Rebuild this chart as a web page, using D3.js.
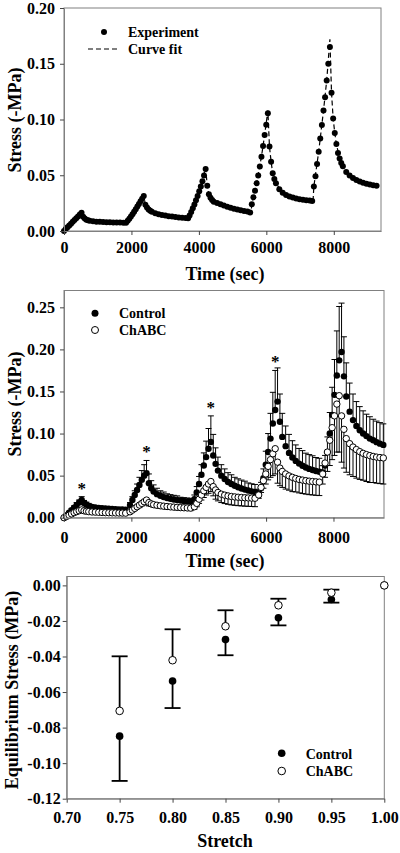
<!DOCTYPE html>
<html><head><meta charset="utf-8">
<script src="https://cdn.jsdelivr.net/npm/d3@7"></script>
<style>
body{margin:0;background:#fff;}
svg{display:block;}
text{font-family:"Liberation Serif","Times New Roman",serif;font-weight:bold;fill:#000;}
</style></head><body>
<svg id="c" width="400" height="853"></svg>
<script>
// ---------- Panel 1: single-sample relaxation ----------
const expTime = [
 0,52,104,156,208,260,312,364,416,468,520, 568,616,664,712,760, 860,960,1060,1160,1260,1360,1460,1560,1660,1760,1840,
 1889,1937,1984,2032,2079,2127,2175,2222,2270,2317,2365, 2413,2461,2509,2557,2605, 2705,2805,2905,3005,3105,3205,3305,3405,3505,3605,3680,
 3724,3772,3819,3867,3914,3962,4010,4057,4105,4152,4200, 4248,4296,4344,4392,4440, 4540,4640,4740,4840,4940,5040,5140,5240,5340,5440,5520,
 5569,5617,5664,5712,5759,5807,5855,5902,5950,5997,6045, 6093,6141,6189,6237,6285, 6385,6485,6585,6685,6785,6885,6985,7085,7185,7285,7360,
 7409,7457,7504,7552,7599,7647,7695,7742,7790,7837,7885, 7933,7981,8029,8077,8125,8173,8221,8269, 8369,8469,8569,8669,8769,8869,8969,9069,9169,9269
];
const expStress = [
 0.0000,0.0017,0.0033,0.0050,0.0066,0.0083,0.0099,0.0115,0.0131,0.0148,0.0164, 0.0128,0.0112,0.0102,0.0096,0.0092, 0.0087,0.0084,0.0082,0.0080,0.0079,0.0078,0.0077,0.0076,0.0076,0.0075,0.0075,
 0.0092,0.0110,0.0130,0.0151,0.0173,0.0196,0.0219,0.0242,0.0266,0.0290,0.0314, 0.0235,0.0210,0.0193,0.0181,0.0172, 0.0160,0.0151,0.0144,0.0138,0.0133,0.0129,0.0125,0.0122,0.0119,0.0117,0.0115,
 0.0140,0.0170,0.0203,0.0238,0.0275,0.0315,0.0357,0.0400,0.0447,0.0498,0.0555, 0.0405,0.0330,0.0298,0.0278,0.0263, 0.0252,0.0240,0.0228,0.0218,0.0209,0.0200,0.0192,0.0186,0.0180,0.0175,0.0165,
 0.0240,0.0303,0.0362,0.0428,0.0497,0.0578,0.0667,0.0763,0.0862,0.0952,0.1057, 0.0757,0.0622,0.0518,0.0467,0.0428, 0.0375,0.0342,0.0322,0.0310,0.0300,0.0292,0.0285,0.0280,0.0276,0.0273,0.0270,
 0.0400,0.0490,0.0600,0.0710,0.0830,0.0950,0.1080,0.1200,0.1350,0.1500,0.1650, 0.1240,0.1010,0.0880,0.0780,0.0700,0.0650,0.0610,0.0580, 0.0530,0.0498,0.0475,0.0457,0.0443,0.0432,0.0424,0.0417,0.0411,0.0405
];
const fitTime = [
 0,520,568,664,760,1260,1840,
 1865,2365,2413,2509,2705,3205,3680,
 3700,3962,4200,4248,4296,4440,4840,5520,
 5545,5569,5712,5855,5950,6045,6093,6141,6189,6285,6485,6885,7360,
 7385,7409,7552,7695,7790,7885,7933,7981,8029,8077,8173,8369,8769,9269
];
const fitStress = [
 0,0.0166,0.0128,0.0102,0.0092,0.0079,0.0075,
 0.0075,0.0318,0.0235,0.0193,0.016,0.0129,0.0115,
 0.0115,0.0315,0.0565,0.0405,0.033,0.0263,0.0218,0.0165,
 0.0159,0.024,0.0428,0.0667,0.0862,0.108,0.0757,0.0622,0.0518,0.0428,0.0342,0.0292,0.027,
 0.027,0.040,0.071,0.108,0.135,0.172,0.124,0.101,0.088,0.078,0.065,0.053,0.0443,0.0405
];
const timeTicks = [0,2000,4000,6000,8000];
const stress1Ticks = [0,0.05,0.10,0.15,0.20];

// ---------- Panel 2: Control vs ChABC (mean + SD) ----------
const relaxTime = [
 0,75,150,225,300,375,450,525, 595,665,735, 830,930,1030,1130,1230,1330,1430,1530,1630,1730,1830,
 1960,2030,2100,2170,2240,2310,2380,2450, 2520,2590,2660, 2760,2860,2960,3060,3160,3260,3360,3460,3560,3660,3760,
 3870,3940,4010,4080,4150,4220,4290,4360, 4430,4500,4570, 4670,4770,4870,4970,5070,5170,5270,5370,5470,5570,5670,
 5780,5850,5920,5990,6060,6130,6200,6270, 6340,6410,6480, 6580,6680,6780,6880,6980,7080,7180,7280,7380,7480,7580,
 7680,7750,7820,7890,7960,8030,8100,8170, 8240,8310,8380, 8480,8580,8680,8780,8880,8980,9080,9180,9280,9380,9480
];
const controlStress = [
 0.000,0.003,0.006,0.009,0.012,0.015,0.018,0.021, 0.0175,0.0155,0.014, 0.0128,0.0122,0.0117,0.0113,0.011,0.0107,0.0104,0.0101,0.0099,0.0097,0.0095,
 0.015,0.021,0.027,0.033,0.039,0.045,0.050,0.053, 0.041,0.035,0.031, 0.028,0.026,0.0245,0.0234,0.0224,0.0216,0.0209,0.0203,0.0198,0.0194,0.019,
 0.022,0.030,0.040,0.051,0.062,0.072,0.082,0.090, 0.074,0.064,0.056, 0.050,0.046,0.0425,0.040,0.038,0.0362,0.0347,0.0334,0.0323,0.0313,0.0305,0.0298,
 0.035,0.047,0.063,0.078,0.094,0.112,0.128,0.138, 0.114,0.096,0.085, 0.077,0.0715,0.0675,0.0643,0.0617,0.0597,0.058,0.0566,0.0555,0.0546,0.0538,
 0.062,0.078,0.100,0.122,0.146,0.169,0.187,0.197, 0.168,0.144,0.126, 0.116,0.109,0.104,0.100,0.097,0.094,0.092,0.0898,0.088,0.0865,0.085
];
const controlErr = [
 0,0.001,0.001,0.002,0.002,0.003,0.003,0.004, 0.003,0.003,0.003, 0.002,0.002,0.002,0.002,0.002,0.002,0.002,0.002,0.002,0.002,0.002,
 0.003,0.004,0.005,0.007,0.009,0.011,0.013,0.015, 0.011,0.009,0.008, 0.007,0.006,0.006,0.005,0.005,0.005,0.005,0.004,0.004,0.004,0.004,
 0.005,0.007,0.009,0.012,0.015,0.019,0.024,0.031, 0.025,0.019,0.016, 0.013,0.012,0.011,0.011,0.010,0.010,0.010,0.010,0.009,0.009,0.009,
 0.004,0.007,0.011,0.016,0.022,0.030,0.037,0.047, 0.040,0.033,0.028, 0.024,0.022,0.020,0.019,0.018,0.018,0.017,0.017,0.017,0.016,0.016,
 0.008,0.012,0.018,0.025,0.033,0.042,0.053,0.064, 0.058,0.047,0.040, 0.034,0.031,0.029,0.028,0.027,0.026,0.026,0.025,0.025,0.025,0.025
];
const chabcStress = [
 0.000,0.0015,0.003,0.0045,0.006,0.0072,0.0083,0.0093, 0.0082,0.0076,0.0072, 0.0068,0.0066,0.0064,0.0062,0.006,0.0059,0.0058,0.0057,0.0056,0.0055,0.0054,
 0.007,0.009,0.011,0.013,0.015,0.017,0.019,0.021, 0.018,0.0165,0.0155, 0.0148,0.0142,0.0137,0.0133,0.0129,0.0126,0.0123,0.012,0.0118,0.0116,0.0114,
 0.013,0.017,0.022,0.027,0.032,0.036,0.040,0.043, 0.037,0.033,0.030, 0.028,0.0268,0.0259,0.0252,0.0247,0.0243,0.024,0.0237,0.0235,0.0233,0.0231,
 0.027,0.036,0.044,0.052,0.061,0.069,0.076,0.082, 0.066,0.059,0.055, 0.052,0.0497,0.048,0.0466,0.0455,0.0447,0.044,0.0434,0.043,0.0426,0.0423,
 0.052,0.065,0.078,0.092,0.107,0.121,0.135,0.145, 0.121,0.105,0.094, 0.088,0.084,0.081,0.0785,0.0765,0.075,0.0738,0.0728,0.072,0.0715,0.071
];
const chabcErr = [
 0,0.001,0.001,0.001,0.001,0.002,0.002,0.002, 0.002,0.002,0.002, 0.002,0.002,0.002,0.002,0.002,0.002,0.002,0.002,0.002,0.002,0.002,
 0.001,0.001,0.002,0.002,0.003,0.003,0.004,0.004, 0.004,0.003,0.003, 0.003,0.003,0.003,0.003,0.003,0.003,0.003,0.003,0.003,0.003,0.003,
 0.003,0.004,0.005,0.006,0.008,0.009,0.011,0.012, 0.011,0.011,0.010, 0.010,0.010,0.010,0.010,0.010,0.010,0.010,0.010,0.010,0.010,0.010,
 0.004,0.006,0.009,0.012,0.016,0.021,0.026,0.030, 0.025,0.021,0.019, 0.018,0.017,0.017,0.016,0.016,0.016,0.016,0.016,0.016,0.016,0.016,
 0.012,0.017,0.023,0.030,0.038,0.047,0.057,0.067, 0.055,0.046,0.040, 0.037,0.035,0.034,0.033,0.032,0.032,0.032,0.031,0.031,0.031,0.031
];
const starTimes = [525,2450,4360,6270];
const stress2Ticks = [0,0.05,0.10,0.15,0.20,0.25];

// ---------- Panel 3: equilibrium stress vs stretch ----------
const stretch = [0.75,0.80,0.85,0.90,0.95,1.00];
const eqControl = [-0.0848,-0.0538,-0.0305,-0.0182,-0.0079,0];
const eqControlErr = [0.0252,0.0152,0.0088,0.0043,0.0018,0];
const eqChabc = [-0.0706,-0.0421,-0.0230,-0.0112,-0.0041,0];
const eqChabcErr = [0.0307,0.0174,0.0090,0.0037,0.0017,0];
const stretchTicks = [0.70,0.75,0.80,0.85,0.90,0.95,1.00];
const eqTicks = [0,-0.02,-0.04,-0.06,-0.08,-0.10,-0.12];

const svg = d3.select("#c");
const FRAME = "#808080";
const f2 = v => Math.abs(v) < 1e-9 ? "0.00" : v.toFixed(2);

function frame(x, y){
  const [x0,x1] = x.range(), [y0,y1] = y.range();
  svg.append("rect").attr("x",x0).attr("y",y1).attr("width",x1-x0).attr("height",y0-y1)
    .attr("fill","none").attr("stroke",FRAME).attr("stroke-width",1);
}
function axes(x, y, xt, yt, xfmt, yfmt, xpad, ypad){
  const [y0] = y.range(), [x0] = x.range();
  const gx = svg.append("g").attr("transform",`translate(0,${y0})`)
    .call(d3.axisBottom(x).tickValues(xt).tickFormat(xfmt).tickSize(4).tickSizeOuter(0).tickPadding(xpad));
  const gy = svg.append("g").attr("transform",`translate(${x0},0)`)
    .call(d3.axisLeft(y).tickValues(yt).tickFormat(yfmt).tickSize(4).tickSizeOuter(0).tickPadding(ypad));
  [gx,gy].forEach(g=>{
    g.select(".domain").attr("stroke",FRAME);
    g.selectAll(".tick line").attr("stroke","#444");
    g.selectAll("text").attr("font-size",16).attr("font-family",'"Liberation Serif",serif').attr("font-weight","bold").attr("fill","#000");
  });
}
function title(txt, x, y, rot){
  const t = svg.append("text").attr("font-size",18).attr("text-anchor","middle").text(txt);
  if(rot) t.attr("transform",`translate(${x},${y}) rotate(-90)`);
  else t.attr("x",x).attr("y",y);
}

// ===== Panel 1 =====
const x1 = d3.scaleLinear().domain([0,9400]).range([64,381]);
const y1 = d3.scaleLinear().domain([0,0.20]).range([231,8]);
frame(x1,y1);
const fitLine = d3.line().x((d,i)=>x1(fitTime[i])).y((d,i)=>y1(fitStress[i]));
svg.append("path").datum(fitTime).attr("d",fitLine).attr("fill","none")
  .attr("stroke","#000").attr("stroke-width",1.2).attr("stroke-dasharray","5,3");
svg.append("g").selectAll("circle").data(expTime).join("circle")
  .attr("cx",d=>x1(d)).attr("cy",(d,i)=>y1(expStress[i])).attr("r",3).attr("fill","#000");
axes(x1,y1,timeTicks,stress1Ticks,d3.format("d"),f2,7,5);
title("Time (sec)",225,280,false);
title("Stress (-MPa)",21,120,true);
// legend
svg.append("circle").attr("cx",104).attr("cy",32).attr("r",3).attr("fill","#000");
svg.append("text").attr("x",128).attr("y",37).attr("font-size",14).text("Experiment");
svg.append("line").attr("x1",88).attr("x2",120).attr("y1",49).attr("y2",49)
  .attr("stroke","#000").attr("stroke-width",1.2).attr("stroke-dasharray","5,3");
svg.append("text").attr("x",128).attr("y",54).attr("font-size",14).text("Curve fit");

// ===== Panel 2 =====
const x2 = d3.scaleLinear().domain([0,9500]).range([64,384]);
const y2 = d3.scaleLinear().domain([0,0.27]).range([517.7,290.5]);
frame(x2,y2);
const eb = svg.append("g").attr("stroke","#000").attr("stroke-width",1);
relaxTime.forEach((t,i)=>{
  const cx = x2(t);
  if(controlErr[i]>0){
    const top = y2(controlStress[i]+controlErr[i]);
    eb.append("line").attr("x1",cx).attr("x2",cx).attr("y1",y2(controlStress[i])).attr("y2",top);
    eb.append("line").attr("x1",cx-3).attr("x2",cx+3).attr("y1",top).attr("y2",top);
  }
  if(chabcErr[i]>0){
    const bot = y2(chabcStress[i]-chabcErr[i]);
    eb.append("line").attr("x1",cx).attr("x2",cx).attr("y1",y2(chabcStress[i])).attr("y2",bot);
    eb.append("line").attr("x1",cx-3).attr("x2",cx+3).attr("y1",bot).attr("y2",bot);
  }
});
svg.append("g").selectAll("circle").data(relaxTime).join("circle")
  .attr("cx",d=>x2(d)).attr("cy",(d,i)=>y2(controlStress[i])).attr("r",3.2).attr("fill","#000");
svg.append("g").selectAll("circle").data(relaxTime).join("circle")
  .attr("cx",d=>x2(d)).attr("cy",(d,i)=>y2(chabcStress[i])).attr("r",3.2)
  .attr("fill","#fff").attr("stroke","#000").attr("stroke-width",1);
starTimes.forEach(t=>{
  const i = relaxTime.indexOf(t);
  svg.append("text").attr("x",x2(t)).attr("y",y2(controlStress[i]+controlErr[i])-3)
    .attr("text-anchor","middle").attr("font-size",17).attr("font-weight","normal").attr("fill","#333").text("*");
});
axes(x2,y2,timeTicks,stress2Ticks,d3.format("d"),f2,10,5);
title("Time (sec)",225,567,false);
title("Stress (-MPa)",21,404,true);
svg.append("circle").attr("cx",95).attr("cy",313.3).attr("r",3.5).attr("fill","#000");
svg.append("text").attr("x",119).attr("y",318.3).attr("font-size",14).text("Control");
svg.append("circle").attr("cx",95).attr("cy",330).attr("r",3.5).attr("fill","#fff").attr("stroke","#000").attr("stroke-width",1);
svg.append("text").attr("x",119).attr("y",335).attr("font-size",14).text("ChABC");

// ===== Panel 3 =====
const x3 = d3.scaleLinear().domain([0.70,1.00]).range([66.7,384.3]);
const y3 = d3.scaleLinear().domain([-0.12,0.005]).range([798.7,576.5]);
frame(x3,y3);
const eb3 = svg.append("g").attr("stroke","#000").attr("stroke-width",1.8);
stretch.forEach((s,i)=>{
  const cx = x3(s);
  if(eqControlErr[i]>0){
    const b = y3(eqControl[i]-eqControlErr[i]);
    eb3.append("line").attr("x1",cx).attr("x2",cx).attr("y1",y3(eqControl[i])).attr("y2",b);
    eb3.append("line").attr("x1",cx-8).attr("x2",cx+8).attr("y1",b).attr("y2",b);
  }
  if(eqChabcErr[i]>0){
    const t = y3(eqChabc[i]+eqChabcErr[i]);
    eb3.append("line").attr("x1",cx).attr("x2",cx).attr("y1",y3(eqChabc[i])).attr("y2",t);
    eb3.append("line").attr("x1",cx-8).attr("x2",cx+8).attr("y1",t).attr("y2",t);
  }
});
svg.append("g").selectAll("circle").data(stretch).join("circle")
  .attr("cx",d=>x3(d)).attr("cy",(d,i)=>y3(eqControl[i])).attr("r",3.8).attr("fill","#000");
svg.append("g").selectAll("circle").data(stretch).join("circle")
  .attr("cx",d=>x3(d)).attr("cy",(d,i)=>y3(eqChabc[i])).attr("r",3.8)
  .attr("fill","#fff").attr("stroke","#000").attr("stroke-width",1);
axes(x3,y3,stretchTicks,eqTicks,f2,f2,9,2);
title("Stretch",225,847,false);
title("Equilibrium Stress (MPa)",18,690,true);
svg.append("circle").attr("cx",281.7).attr("cy",753.3).attr("r",3.8).attr("fill","#000");
svg.append("text").attr("x",305.7).attr("y",759).attr("font-size",14).text("Control");
svg.append("circle").attr("cx",281.7).attr("cy",771).attr("r",3.8).attr("fill","#fff").attr("stroke","#000").attr("stroke-width",1);
svg.append("text").attr("x",305.7).attr("y",776).attr("font-size",14).text("ChABC");
</script>
</body></html>
